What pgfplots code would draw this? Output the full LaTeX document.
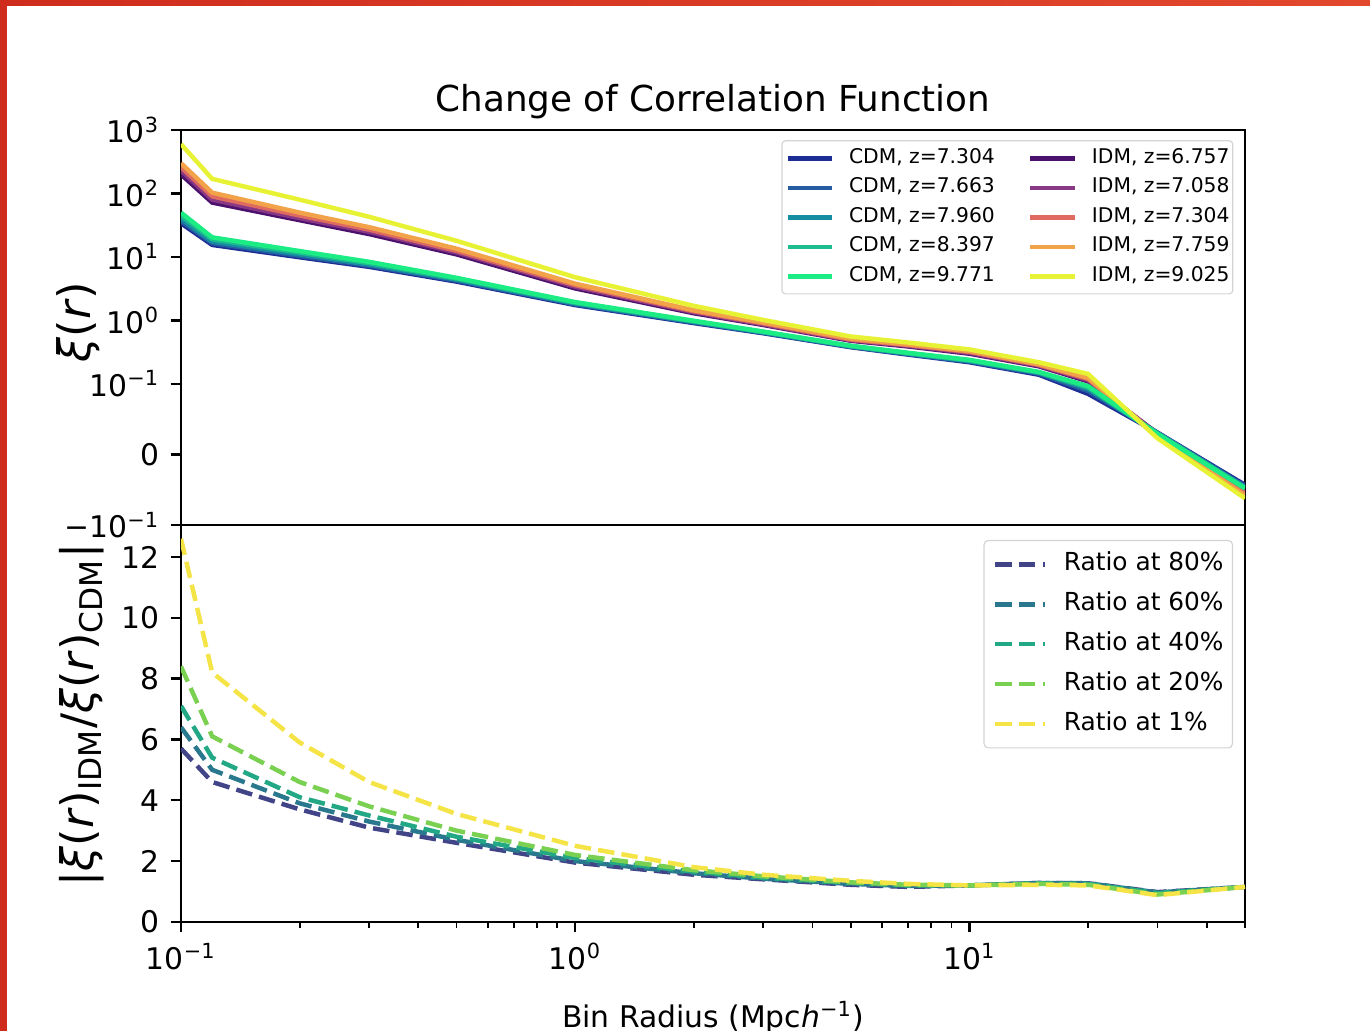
\documentclass[border=0pt]{standalone}
\usepackage{fontspec}
\setmainfont{DejaVu Sans}
\usepackage{pgfplots}
\usepackage{pgfplotstable}
\pgfplotsset{compat=1.18}

\definecolor{c1}{RGB}{28,46,150}
\definecolor{c2}{RGB}{38,92,160}
\definecolor{c3}{RGB}{22,142,162}
\definecolor{c4}{RGB}{30,188,142}
\definecolor{c5}{RGB}{28,236,132}
\definecolor{i1}{RGB}{76,16,110}
\definecolor{i2}{RGB}{136,56,132}
\definecolor{i3}{RGB}{222,106,96}
\definecolor{i4}{RGB}{242,162,72}
\definecolor{i5}{RGB}{232,242,52}
\definecolor{v1}{RGB}{65,68,135}
\definecolor{v2}{RGB}{42,120,142}
\definecolor{v3}{RGB}{34,168,132}
\definecolor{v4}{RGB}{122,209,81}
\definecolor{v5}{RGB}{245,228,70}
\definecolor{frameL}{RGB}{208,44,30}
\definecolor{frameR}{RGB}{226,72,44}

% x = bin radius; columns: CDM (c1..c5) and IDM (i1..i5) correlation function
\pgfplotstableread{
x    c1     c2     c3     c4     c5     i1    i2    i3    i4    i5
0.1  34     37     40     45     50     200   230   260   300   600
0.12 15.5   16.5   17.5   19     20.4   72    80    90    103   170
0.2  9.9    10.4   11     11.7   12.4   38    41    45    50    80
0.3  7.0    7.3    7.6    8.0    8.4    23    25    27    29.5  43
0.5  4.1    4.25   4.4    4.55   4.7    11    11.8  12.5  13.5  18
1    1.75   1.80   1.85   1.90   1.95   3.2   3.4   3.6   3.8   4.8
2    0.91   0.93   0.95   0.97   0.99   1.30  1.35  1.40  1.45  1.70
3    0.63   0.64   0.65   0.66   0.67   0.85  0.87  0.90  0.93  1.02
5    0.38   0.385  0.39   0.395  0.40   0.48  0.49  0.50  0.52  0.56
7    0.29   0.295  0.30   0.305  0.31   0.39  0.40  0.41  0.42  0.45
10   0.22   0.225  0.23   0.235  0.24   0.30  0.31  0.32  0.33  0.35
15   0.14   0.145  0.15   0.152  0.155  0.19  0.195 0.20  0.205 0.22
20   0.086  0.090  0.093  0.095  0.097  0.11  0.115 0.12  0.125 0.144
30   0.031  0.031  0.030  0.030  0.029  0.030 0.029 0.027 0.026 0.023
50   -0.043 -0.045 -0.046 -0.047 -0.048 -0.050 -0.052 -0.055 -0.058 -0.062
}\topdata

\pgfplotstableread{
x    r80   r60   r40   r20   r1
0.1  5.7   6.4   7.1   8.4   12.6
0.12 4.6   5.0   5.4   6.1   8.2
0.2  3.7   3.9   4.1   4.6   5.9
0.3  3.1   3.3   3.5   3.8   4.6
0.5  2.6   2.7   2.8   3.0   3.55
1    1.95  2.0   2.1   2.2   2.5
2    1.55  1.6   1.65  1.7   1.8
3    1.4   1.42  1.45  1.5   1.55
5    1.22  1.25  1.28  1.3   1.35
7    1.15  1.18  1.2   1.22  1.25
10   1.2   1.2   1.2   1.2   1.2
15   1.28  1.28  1.27  1.25  1.22
20   1.27  1.27  1.25  1.22  1.2
30   0.98  0.97  0.95  0.9   0.88
50   1.15  1.15  1.15  1.15  1.15
}\ratiodata

% symlog transform (linthresh 0.1, linscale 1, base 10)
\newcommand{\symlog}[1]{(abs(\thisrow{#1})<0.1 ? 11.1111*\thisrow{#1} : (\thisrow{#1}>0 ? 1 : -1)*(1.1111+log10(10*abs(\thisrow{#1}))))}

\pgfplotsset{
  sline/.style={line width=1.5pt, line join=round},
  dline/.style={line width=1.5pt, dash pattern=on 5.55pt off 2.4pt},
}

\begin{document}
\begin{tikzpicture}
\useasboundingbox (0,0) rectangle (459.8pt,-346.0pt);
\fill[white] (0,0) rectangle (459.8pt,-346.0pt);
\clip (0,0) rectangle (459.8pt,-346.0pt);
\shade[left color=frameL, right color=frameR] (0,0) rectangle (459.8pt,-1.9pt);
\fill[frameL] (0,0) rectangle (2.5pt,-346.0pt);

\begin{axis}[
  xmode=log, xmin=0.1, xmax=50,
  scale only axis, width=357.1pt, height=132.6pt,
  at={(60.74pt,-43.63pt)}, anchor=north west,
  tick align=outside, xtick pos=bottom, ytick pos=left,
  major tick length=3.5pt,
  every major tick/.style={black, line width=0.8pt},
  axis line style={line width=0.8pt},
  every tick label/.append style={inner sep=0pt, font=\fontsize{10}{12}\selectfont},
  yticklabel shift=3.5pt,
  ymin=-1.1111, ymax=5.1111,
  xtick=\empty, xminorticks=false,
  ytick={-1.1111,0,1.1111,2.1111,3.1111,4.1111,5.1111},
  yticklabels={−10\textsuperscript{−1},0,10\textsuperscript{−1},10\textsuperscript{0},10\textsuperscript{1},10\textsuperscript{2},10\textsuperscript{3}},
  yminorticks=false,
  title={Change of Correlation Function},
  title style={at={(axis description cs:0.5,1)}, anchor=base, yshift=0.3pt, inner sep=0pt, font=\fontsize{12}{14.4}\selectfont},
  ylabel={\textit{ξ}(\textit{r})},
  ylabel style={at={(axis description cs:-0.097,0.514)}, font=\fontsize{15}{18}\selectfont, anchor=center, inner sep=0pt},
  legend columns=2, legend cell align=left,
  legend image code/.code={\draw[#1] (0pt,0pt) -- (15pt,0pt);},
  legend style={at={(rel axis cs:1,1)}, anchor=north east, xshift=-3.9pt, yshift=-3.4pt,
    draw=black!17, rounded corners=1.2pt, fill=white, fill opacity=0.8, text opacity=1,
    font=\fontsize{6.8}{8}\selectfont, inner xsep=1.1pt, inner ysep=2.6pt,
    row sep=3.3pt,
    nodes={inner sep=0pt, text height=5pt, text depth=1.6pt},
    /tikz/every odd column/.style={column sep=4.9pt},
    /tikz/every even column/.style={column sep=11.2pt}},
]
\addplot[sline, c1] table[x=x, y expr={\symlog{c1}}] {\topdata};
\addlegendentry{CDM, z=7.304}
\addplot[sline, i1] table[x=x, y expr={\symlog{i1}}] {\topdata};
\addlegendentry{IDM, z=6.757}
\addplot[sline, c2] table[x=x, y expr={\symlog{c2}}] {\topdata};
\addlegendentry{CDM, z=7.663}
\addplot[sline, i2] table[x=x, y expr={\symlog{i2}}] {\topdata};
\addlegendentry{IDM, z=7.058}
\addplot[sline, c3] table[x=x, y expr={\symlog{c3}}] {\topdata};
\addlegendentry{CDM, z=7.960}
\addplot[sline, i3] table[x=x, y expr={\symlog{i3}}] {\topdata};
\addlegendentry{IDM, z=7.304}
\addplot[sline, c4] table[x=x, y expr={\symlog{c4}}] {\topdata};
\addlegendentry{CDM, z=8.397}
\addplot[sline, i4] table[x=x, y expr={\symlog{i4}}] {\topdata};
\addlegendentry{IDM, z=7.759}
\addplot[sline, c5] table[x=x, y expr={\symlog{c5}}] {\topdata};
\addlegendentry{CDM, z=9.771}
\addplot[sline, i5] table[x=x, y expr={\symlog{i5}}] {\topdata};
\addlegendentry{IDM, z=9.025}
\end{axis}

\begin{axis}[
  xmode=log, xmin=0.1, xmax=50,
  scale only axis, width=357.1pt, height=133.2pt,
  at={(60.74pt,-176.2pt)}, anchor=north west,
  tick align=outside, xtick pos=bottom, ytick pos=left,
  major tick length=3.5pt, minor tick length=2pt,
  every major tick/.style={black, line width=0.8pt},
  every minor tick/.style={black, line width=0.6pt},
  axis line style={line width=0.8pt},
  every tick label/.append style={inner sep=0pt, font=\fontsize{10}{12}\selectfont},
  xticklabel shift=3.5pt, yticklabel shift=3.5pt,
  ymin=0, ymax=13.05,
  xtick={0.1,1,10},
  xticklabels={10\textsuperscript{−1},10\textsuperscript{0},10\textsuperscript{1}},
  minor xtick={0.2,0.3,0.4,0.5,0.6,0.7,0.8,0.9,2,3,4,5,6,7,8,9,20,30,40,50},
  ytick={0,2,4,6,8,10,12},
  yticklabels={0,2,4,6,8,10,12},
  xlabel={Bin Radius (Mpc\textit{h}\textsuperscript{−1})},
  xlabel style={at={(axis description cs:0.5,-0.199)}, anchor=north, inner sep=0pt, font=\fontsize{10}{12}\selectfont},
  ylabel={|\textit{ξ}(\textit{r})\textsubscript{IDM}/\textit{ξ}(\textit{r})\textsubscript{CDM}|},
  ylabel style={at={(axis description cs:-0.093,0.521)}, font=\fontsize{15}{18}\selectfont, anchor=center, inner sep=0pt},
  legend cell align=left,
  legend image code/.code={\draw[#1] (0pt,0pt) -- (16.7pt,0pt);},
  legend style={at={(rel axis cs:1,1)}, anchor=north east, xshift=-4pt, yshift=-5pt,
    draw=black!17, rounded corners=1.4pt, fill=white, fill opacity=0.8, text opacity=1,
    font=\fontsize{8.33}{10}\selectfont, inner xsep=3pt, inner ysep=4pt,
    row sep=5.4pt,
    nodes={inner sep=0pt, text height=6.2pt, text depth=1.8pt},
    /tikz/every odd column/.style={column sep=5.6pt}},
]
\addplot[dline, v1] table[x=x, y=r80] {\ratiodata};
\addlegendentry{Ratio at 80\%}
\addplot[dline, v2] table[x=x, y=r60] {\ratiodata};
\addlegendentry{Ratio at 60\%}
\addplot[dline, v3] table[x=x, y=r40] {\ratiodata};
\addlegendentry{Ratio at 40\%}
\addplot[dline, v4] table[x=x, y=r20] {\ratiodata};
\addlegendentry{Ratio at 20\%}
\addplot[dline, v5] table[x=x, y=r1] {\ratiodata};
\addlegendentry{Ratio at 1\%}
\end{axis}
\end{tikzpicture}
\end{document}
